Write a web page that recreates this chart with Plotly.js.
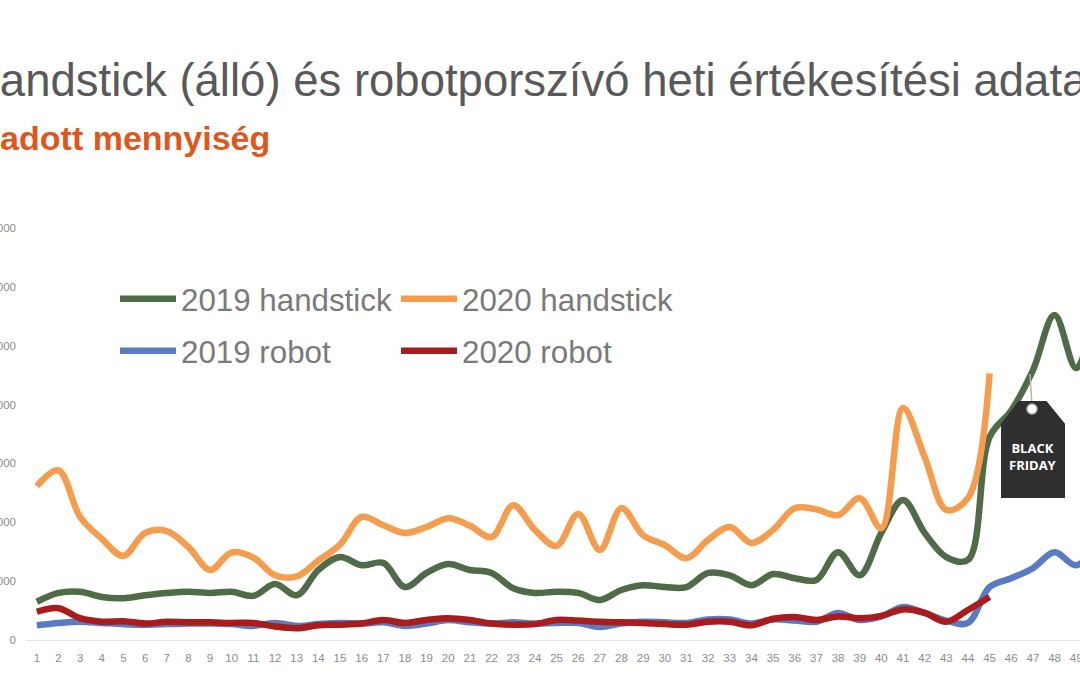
<!DOCTYPE html>
<html>
<head>
<meta charset="utf-8">
<script src="https://cdn.plot.ly/plotly-3.0.1.min.js"></script>
<style>
  html, body { margin: 0; padding: 0; width: 1080px; height: 675px; overflow: hidden; background: #fff; }
  #chart { position: absolute; left: -44px; top: 0; width: 1216px; height: 675px; }
</style>
</head>
<body>
<div id="chart"></div>
<script>
// weekly sold quantity
var weeks = [];
for (var w = 1; w <= 52; w++) weeks.push(w);
var weekLabels = weeks.slice(0, 49);

var handstick2019 = [650, 800, 820, 730, 710, 760, 800, 820, 800, 820,
                     750, 950, 760, 1190, 1410, 1270, 1310, 900, 1140, 1290,
                     1190, 1140, 880, 800, 820, 800, 680, 850, 930, 900,
                     900, 1140, 1100, 930, 1120, 1050, 1020, 1490, 1100, 1820,
                     2380, 1820, 1410, 1360, 3450, 3900, 4580, 5520, 4620, 5900];
var handstick2020 = [2615, 2880, 2090, 1720, 1430, 1820, 1850, 1580, 1190, 1490,
                     1400, 1100, 1080, 1350, 1620, 2090, 1950, 1820, 1920, 2070,
                     1940, 1750, 2290, 1870, 1600, 2140, 1530, 2240, 1780, 1610,
                     1390, 1700, 1920, 1650, 1870, 2240, 2220, 2120, 2410, 1900,
                     3940, 3110, 2210, 2410, 4530];
var robot2019 = [250, 290, 310, 290, 270, 260, 270, 280, 280, 270,
                 240, 290, 240, 270, 290, 280, 300, 240, 280, 340,
                 300, 280, 300, 280, 290, 290, 220, 280, 310, 300,
                 290, 350, 350, 280, 350, 330, 310, 460, 340, 400,
                 560, 460, 330, 290, 900, 1050, 1220, 1490, 1270, 1600];
var robot2020 = [480, 540, 370, 310, 320, 280, 310, 300, 300, 290,
                 290, 230, 200, 250, 260, 280, 340, 290, 340, 370,
                 340, 280, 260, 270, 340, 330, 310, 300, 290, 270,
                 260, 310, 310, 250, 360, 390, 340, 400, 370, 410,
                 520, 460, 310, 510, 730];

var yTicks = [0, 1000, 2000, 3000, 4000, 5000, 6000, 7000];

var GREEN = '#4f6b47', ORANGE = '#f49d4f', BLUE = '#5a7bc4', RED = '#a81c1c';

function series(name, vals, color, legendId) {
    return {
        x: weeks.slice(0, vals.length),
        y: vals,
        name: name,
        type: 'scatter',
        mode: 'lines',
        line: {color: color, width: 6.5, shape: 'spline', smoothing: 1},
        legend: legendId,
        hoverinfo: 'skip'
    };
}

var data = [
    series('2019 handstick', handstick2019, GREEN, 'legend'),
    series('2020 handstick', handstick2020, ORANGE, 'legend'),
    series('2019 robot', robot2019, BLUE, 'legend2'),
    series('2020 robot', robot2020, RED, 'legend2')
];

// plot area geometry, so decorations can be placed in screen pixels
var ML = 70, MT = 228, PW = 1126, PH = 412, SHIFT = 44;
function px(sx) { return (sx + SHIFT - ML) / PW; }
function py(sy) { return (MT + PH - sy) / PH; }

var legendFont = {family: 'Liberation Sans, Arial, sans-serif', size: 31.3, color: '#7a7a7a'};
function legendBox(y) {
    return {
        orientation: 'h', x: px(115), y: py(y), xanchor: 'left', yanchor: 'middle',
        font: legendFont, bgcolor: 'rgba(0,0,0,0)', itemwidth: 56,
        entrywidth: 210, entrywidthmode: 'pixels', traceorder: 'normal'
    };
}

// BLACK FRIDAY price tag
var tag = 'M' + px(1002) + ',' + py(424) +
          ' L' + px(1019) + ',' + py(402) +
          ' L' + px(1046) + ',' + py(402) +
          ' L' + px(1064) + ',' + py(424) +
          ' L' + px(1064) + ',' + py(497) +
          ' L' + px(1002) + ',' + py(497) + ' Z';

var layout = {
    width: 1216, height: 675,
    margin: {l: ML, r: 20, t: MT, b: 675 - MT - PH},
    paper_bgcolor: '#ffffff', plot_bgcolor: '#ffffff',
    font: {family: 'Liberation Sans, Arial, sans-serif', color: '#8c8c8c'},
    title: {
        text: 'Handstick (álló) és robotporszívó heti értékesítési adatai',
        font: {family: 'Liberation Sans, Arial, sans-serif', size: 45.5, color: '#595959'},
        xref: 'container', yref: 'container', x: 11 / 1216, xanchor: 'left',
        y: 1 - 80 / 675, yanchor: 'middle'
    },
    xaxis: {
        range: [0.5, 52.5], tickmode: 'array', tickvals: weekLabels, ticktext: weekLabels.map(String),
        showgrid: false, zeroline: false, showline: true, linecolor: '#e3e3e3', linewidth: 1,
        ticks: '', ticklabelstandoff: 7, tickfont: {size: 11.5, color: '#8c8c8c'}, fixedrange: true
    },
    yaxis: {
        range: [0, 7000], tickmode: 'array', tickvals: yTicks, ticktext: yTicks.map(String),
        showgrid: false, zeroline: false, showline: false,
        ticks: '', ticklabelstandoff: 9, tickfont: {size: 11.5, color: '#8c8c8c'}, fixedrange: true
    },
    showlegend: true,
    legend: legendBox(299),
    legend2: legendBox(351),
    shapes: [
        {type: 'line', xref: 'paper', yref: 'paper', x0: px(1030), y0: py(374), x1: px(1032), y1: py(406),
         line: {color: '#b5b5b5', width: 1.5}},
        {type: 'path', xref: 'paper', yref: 'paper', path: tag, fillcolor: '#2f2f2f',
         line: {color: '#2f2f2f', width: 2}},
        {type: 'circle', xref: 'paper', yref: 'paper', x0: px(1027), y0: py(404), x1: px(1037), y1: py(414),
         fillcolor: '#ffffff', line: {color: '#b5b5b5', width: 1.5}}
    ],
    annotations: [
        {text: '<b>Eladott mennyiség</b>', xref: 'paper', yref: 'paper', x: px(-34), y: py(138),
         xanchor: 'left', yanchor: 'middle', showarrow: false,
         font: {family: 'Liberation Sans, Arial, sans-serif', size: 34, color: '#e0571c'}},
        {text: '<b>BLACK<br>FRIDAY</b>', xref: 'paper', yref: 'paper', x: px(1033), y: py(456),
         xanchor: 'center', yanchor: 'middle', showarrow: false,
         font: {family: 'Open Sans, sans-serif', size: 13, color: '#ffffff'}}
    ]
};

Plotly.newPlot('chart', data, layout, {displayModeBar: false, staticPlot: true});
</script>
</body>
</html>
